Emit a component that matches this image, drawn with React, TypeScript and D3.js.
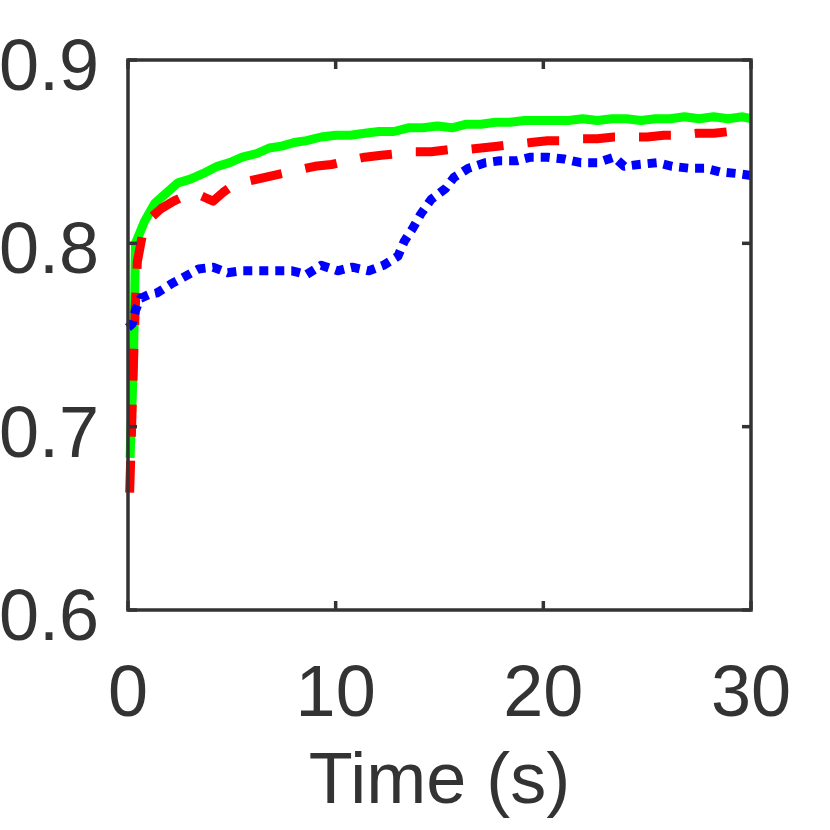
// Accuracy vs time, three methods
import React from 'react';
import * as d3 from 'd3';

const greenT = [0.1, 0.15, 0.25, 0.32, 0.36, 0.8, 1.3, 1.8, 2.4, 3.0, 3.6, 4.3, 4.9, 5.5, 6.2, 6.8, 7.4, 8.0, 8.6, 9.3, 10.0, 10.7, 11.4, 12.1, 12.8, 13.5, 14.2, 14.9, 15.6, 16.3, 17.0, 17.7, 18.4, 19.1, 19.8, 20.5, 21.2, 21.9, 22.6, 23.3, 24.0, 24.7, 25.4, 26.1, 26.8, 27.5, 28.2, 28.9, 29.6, 30];
const greenV = [0.683, 0.70, 0.73, 0.77, 0.80, 0.812, 0.822, 0.827, 0.833, 0.835, 0.838, 0.842, 0.844, 0.847, 0.849, 0.852, 0.853, 0.855, 0.856, 0.858, 0.859, 0.859, 0.860, 0.861, 0.861, 0.863, 0.863, 0.864, 0.863, 0.865, 0.865, 0.866, 0.866, 0.867, 0.867, 0.867, 0.867, 0.868, 0.867, 0.868, 0.868, 0.867, 0.868, 0.868, 0.869, 0.868, 0.869, 0.868, 0.869, 0.868];

const redT = [0.08, 0.15, 0.25, 0.35, 0.45, 0.7, 1.1, 1.6, 2.2, 2.75, 3.3, 3.7, 4.1, 4.6, 5.1, 5.8, 6.6, 7.4, 8.2, 9.0, 9.8, 10.6, 11.4, 12.2, 13.0, 13.8, 14.6, 15.4, 16.2, 17.0, 17.8, 18.6, 19.4, 20.2, 21.0, 21.8, 22.6, 23.4, 24.2, 25.0, 25.8, 26.6, 27.4, 28.2, 29.0, 29.6, 30];
const redV = [0.664, 0.69, 0.73, 0.765, 0.79, 0.805, 0.814, 0.819, 0.823, 0.826, 0.827, 0.825, 0.823, 0.828, 0.832, 0.834, 0.836, 0.838, 0.840, 0.842, 0.843, 0.845, 0.847, 0.848, 0.849, 0.850, 0.850, 0.851, 0.851, 0.852, 0.853, 0.854, 0.855, 0.856, 0.856, 0.857, 0.857, 0.858, 0.858, 0.858, 0.859, 0.859, 0.860, 0.860, 0.861, 0.862, 0.862];

const blueT = [0, 0.2, 0.35, 0.6, 1.0, 1.4, 2.1, 2.75, 3.4, 4.1, 4.8, 5.5, 6.4, 7.2, 7.9, 8.6, 9.3, 10.1, 10.8, 11.6, 12.3, 13.0, 13.3, 13.7, 14.1, 14.6, 15.3, 15.7, 16.4, 17.2, 17.9, 18.7, 19.4, 20.2, 21.0, 21.8, 22.6, 23.4, 23.9, 24.6, 25.5, 26.2, 27.0, 27.8, 28.5, 29.4, 30];
const blueV = [0.754, 0.756, 0.763, 0.770, 0.772, 0.773, 0.778, 0.782, 0.786, 0.787, 0.784, 0.785, 0.785, 0.785, 0.785, 0.783, 0.788, 0.785, 0.787, 0.785, 0.788, 0.793, 0.801, 0.808, 0.816, 0.824, 0.830, 0.836, 0.841, 0.844, 0.845, 0.845, 0.847, 0.847, 0.846, 0.844, 0.844, 0.847, 0.842, 0.843, 0.844, 0.842, 0.841, 0.841, 0.839, 0.838, 0.837];

const xTicks = [0, 10, 20, 30];
const yTicks = [0.6, 0.7, 0.8, 0.9];
const xLabel = 'Time (s)';

const width = 830;
const height = 830;
const marginLeft = 128;
const marginRight = 79;
const marginTop = 60;
const marginBottom = 220;
const axisColor = '#333333';
const font = '"Liberation Sans", Arial, Helvetica, sans-serif';

const App: React.FC = () => {
  const x = d3.scaleLinear().domain([0, 30]).range([marginLeft, width - marginRight]);
  const y = d3.scaleLinear().domain([0.6, 0.9]).range([height - marginBottom, marginTop]);

  const line = d3.line<[number, number]>()
    .x(d => x(d[0]))
    .y(d => y(d[1]));

  const series = [
    { t: greenT, v: greenV, color: '#00ff00', dash: undefined },
    { t: redT, v: redV, color: '#ff0000', dash: '32,24' },
    { t: blueT, v: blueV, color: '#0000ff', dash: '9,7' },
  ];

  const x0 = x(0), x1 = x(30), y0 = y(0.6), y1 = y(0.9);
  const tickLen = 9;

  return (
    <svg width={width} height={height} style={{ position: 'absolute', left: 0, top: 0, background: '#fff' }}>
      {series.map((s, i) => (
        <path
          key={i}
          d={line(s.t.map((t, j) => [t, s.v[j]] as [number, number])) || ''}
          fill="none"
          stroke={s.color}
          strokeWidth={9}
          strokeDasharray={s.dash}
          strokeLinejoin="round"
        />
      ))}

      {/* box */}
      <rect x={x0} y={y1} width={x1 - x0} height={y0 - y1} fill="none" stroke={axisColor} strokeWidth={3.5} />

      {xTicks.map(t => (
        <g key={'x' + t}>
          <line x1={x(t)} x2={x(t)} y1={y0} y2={y0 - tickLen} stroke={axisColor} strokeWidth={3.5} />
          <line x1={x(t)} x2={x(t)} y1={y1} y2={y1 + tickLen} stroke={axisColor} strokeWidth={3.5} />
          <text x={x(t)} y={716} textAnchor="middle" fontFamily={font} fontSize={72} fill={axisColor}>{t}</text>
        </g>
      ))}

      {yTicks.map(t => (
        <g key={'y' + t}>
          <line x1={x0} x2={x0 + tickLen} y1={y(t)} y2={y(t)} stroke={axisColor} strokeWidth={3.5} />
          <line x1={x1} x2={x1 - tickLen} y1={y(t)} y2={y(t)} stroke={axisColor} strokeWidth={3.5} />
          <text x={99} y={y(t) + 30} textAnchor="end" fontFamily={font} fontSize={72} fill={axisColor}>{t.toFixed(1)}</text>
        </g>
      ))}

      <text x={(x0 + x1) / 2} y={803} textAnchor="middle" fontFamily={font} fontSize={72} fill={axisColor}>{xLabel}</text>
    </svg>
  );
};

export default App;
